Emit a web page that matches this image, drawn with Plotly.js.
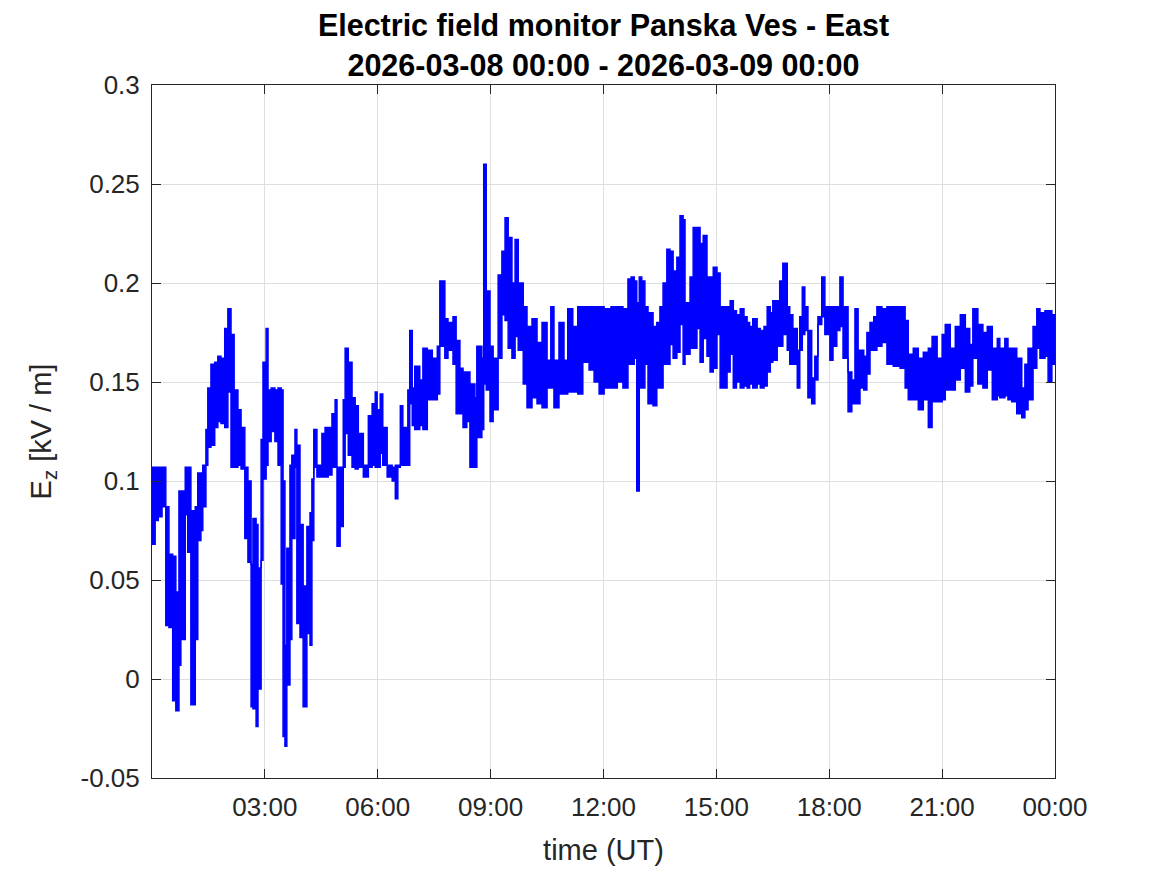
<!DOCTYPE html>
<html>
<head>
<meta charset="utf-8">
<script src="https://cdn.plot.ly/plotly-3.0.1.min.js"></script>
<style>html,body{margin:0;padding:0;background:#fff;}#chart{width:1167px;height:875px;}</style>
</head>
<body>
<div id="chart"></div>
<script>
// Start minute (UT, from 2026-03-08 00:00) of each sampled block, with its max and min Ez [kV/m]
const tMin = [0,5,10,16,22,27,33,38,43,46,53,57,62,69,73,78,81,86,89,94,100,105,110,116,121,126,131,137,142,148,153,158,161,166,169,174,177,182,185,190,196,201,206,209,212,215,220,223,228,231,236,241,247,252,255,258,263,271,276,281,287,292,295,300,305,308,313,319,324,329,337,345,351,356,359,364,368,375,383,388,392,396,400,408,411,415,419,427,432,439,447,455,459,467,472,480,485,491,496,502,507,515,518,526,529,533,539,544,552,558,563,568,574,579,584,592,598,606,614,622,630,636,641,649,657,663,671,679,687,697,705,713,721,732,742,751,759,764,769,773,777,781,786,791,799,805,810,815,821,826,831,837,842,847,850,858,863,869,874,879,885,890,895,901,906,911,917,922,927,932,938,944,949,953,958,965,970,976,981,986,990,997,1001,1006,1013,1017,1022,1029,1033,1037,1041,1046,1052,1057,1062,1068,1073,1081,1086,1092,1097,1102,1110,1116,1121,1126,1129,1135,1140,1145,1151,1156,1164,1172,1182,1193,1201,1206,1214,1222,1230,1238,1244,1252,1260,1265,1273,1281,1289,1297,1304,1309,1317,1325,1332,1340,1348,1352,1360,1365,1371,1379,1387,1392,1397,1405,1411,1416,1424,1429,1435,1440];
const ezHi = [.107,.107,.107,.107,.087,.063,.062,.044,.095,.095,.107,.107,.085,.087,.104,.104,.108,.126,.147,.159,.160,.163,.162,.177,.187,.174,.146,.136,.127,.107,.100,.058,.081,.078,.056,.121,.160,.177,.146,.147,.146,.147,.146,.100,.017,.066,.108,.113,.126,.118,.078,.047,.077,.084,.101,.126,.108,.124,.127,.127,.134,.141,.107,.107,.141,.167,.160,.142,.138,.124,.108,.133,.139,.145,.136,.144,.127,.108,.107,.108,.108,.138,.127,.146,.176,.147,.158,.151,.167,.166,.162,.168,.201,.182,.180,.183,.171,.157,.155,.155,.149,.142,.168,.162,.260,.196,.168,.162,.204,.216,.233,.223,.200,.222,.200,.188,.178,.182,.170,.180,.161,.188,.161,.180,.161,.187,.178,.188,.188,.188,.188,.188,.187,.188,.188,.187,.202,.203,.201,.190,.203,.201,.188,.185,.178,.180,.188,.200,.217,.216,.206,.213,.234,.232,.190,.203,.228,.228,.220,.224,.203,.203,.208,.205,.188,.188,.188,.191,.186,.184,.187,.183,.180,.178,.182,.177,.176,.178,.188,.185,.191,.191,.201,.210,.188,.184,.177,.166,.183,.198,.188,.176,.152,.163,.183,.203,.188,.188,.188,.188,.203,.188,.155,.151,.187,.166,.166,.163,.175,.180,.183,.188,.187,.188,.188,.188,.181,.164,.167,.162,.165,.167,.173,.162,.174,.179,.167,.178,.184,.177,.169,.187,.179,.175,.178,.167,.172,.167,.172,.167,.167,.162,.147,.159,.167,.178,.187,.185,.186,.186,.184,.184];
const ezLo = [.068,.080,.082,.087,.027,.026,-.011,-.016,.007,.020,.083,.064,-.013,.020,.070,.075,.087,.108,.117,.118,.127,.130,.129,.127,.145,.107,.107,.108,.106,.071,.059,-.014,-.015,-.024,-.005,.060,.101,.108,.120,.125,.120,.108,.048,-.029,-.034,-.003,.020,.071,.107,.028,.021,-.014,.023,.017,.070,.107,.102,.102,.102,.103,.107,.107,.067,.077,.107,.124,.113,.107,.106,.107,.102,.107,.108,.107,.107,.114,.108,.102,.100,.091,.107,.108,.108,.108,.139,.128,.126,.128,.126,.141,.141,.144,.168,.162,.166,.159,.134,.134,.127,.130,.107,.107,.122,.126,.149,.146,.130,.136,.162,.184,.181,.167,.162,.173,.166,.149,.137,.142,.139,.137,.147,.147,.137,.144,.144,.145,.145,.144,.160,.156,.150,.144,.147,.147,.150,.147,.159,.159,.162,.095,.147,.147,.159,.139,.138,.147,.147,.159,.159,.169,.162,.165,.179,.159,.164,.167,.167,.177,.160,.172,.163,.155,.157,.174,.147,.147,.155,.164,.147,.150,.147,.148,.147,.149,.147,.149,.147,.148,.155,.160,.161,.168,.168,.174,.166,.159,.159,.147,.166,.174,.176,.142,.139,.151,.179,.183,.174,.161,.168,.176,.178,.162,.135,.139,.139,.139,.147,.146,.154,.166,.166,.168,.170,.159,.158,.157,.147,.141,.141,.136,.141,.127,.140,.140,.141,.146,.146,.151,.157,.145,.148,.162,.149,.147,.156,.141,.143,.142,.143,.141,.140,.134,.132,.136,.141,.157,.167,.162,.163,.150,.159,.159];

const xTickLabels = ['03:00','06:00','09:00','12:00','15:00','18:00','21:00','00:00'];
const xTickTimes = ['2026-03-08 03:00','2026-03-08 06:00','2026-03-08 09:00','2026-03-08 12:00','2026-03-08 15:00','2026-03-08 18:00','2026-03-08 21:00','2026-03-09 00:00'];
const yTickVals = [-0.05,0,0.05,0.1,0.15,0.2,0.25,0.3];
const yTickLabels = ['-0.05','0','0.05','0.1','0.15','0.2','0.25','0.3'];

function toStamp(m){
  const d = new Date(Date.UTC(2026,2,8,0,0,0) + m*60000);
  const p = n => String(n).padStart(2,'0');
  return d.getUTCFullYear()+'-'+p(d.getUTCMonth()+1)+'-'+p(d.getUTCDate())+' '+p(d.getUTCHours())+':'+p(d.getUTCMinutes());
}
const xs = tMin.map(toStamp);
const blue = '#0000ff';
const ink = '#262626';
const FONT = '"Liberation Sans", Arial, Helvetica, sans-serif';

const traces = [
  {x: xs, y: ezLo, type:'scatter', mode:'lines', line:{color:blue, width:1.5, shape:'hv'}, hoverinfo:'skip', showlegend:false},
  {x: xs, y: ezHi, type:'scatter', mode:'lines', line:{color:blue, width:1.5, shape:'hv'}, fill:'tonexty', fillcolor:blue, showlegend:false}
];

const axisCommon = {
  showline:true, linecolor:ink, linewidth:1, mirror:'ticks',
  ticks:'inside', ticklen:9, tickwidth:1, tickcolor:ink,
  showgrid:true, gridcolor:'#dfdfdf', gridwidth:1, zeroline:false,
  ticklabelstandoff:6,
  tickfont:{family:FONT, size:26, color:ink}
};

const layout = {
  width:1167, height:875,
  margin:{l:152, r:112, t:85, b:97},
  paper_bgcolor:'#ffffff', plot_bgcolor:'#ffffff',
  showlegend:false,
  title:{
    text:'<b>Electric field monitor Panska Ves - East</b><br><b>2026-03-08 00:00 - 2026-03-09 00:00</b>',
    font:{family:FONT, size:30.5, color:'#000000'},
    x:0.5, xref:'paper', y:0.959, yref:'container', yanchor:'top'
  },
  xaxis: Object.assign({}, axisCommon, {
    type:'date', range:['2026-03-08 00:00','2026-03-09 00:00'],
    tickmode:'array', tickvals:xTickTimes, ticktext:xTickLabels,
    title:{text:'time (UT)', font:{family:FONT, size:29, color:ink}, standoff:18}
  }),
  yaxis: Object.assign({}, axisCommon, {
    range:[-0.05, 0.3],
    tickmode:'array', tickvals:yTickVals, ticktext:yTickLabels,
    title:{text:'E<sub>z</sub> [kV / m]', font:{family:FONT, size:29, color:ink}, standoff:20}
  })
};

Plotly.newPlot('chart', traces, layout, {staticPlot:true, displayModeBar:false});
</script>
</body>
</html>
